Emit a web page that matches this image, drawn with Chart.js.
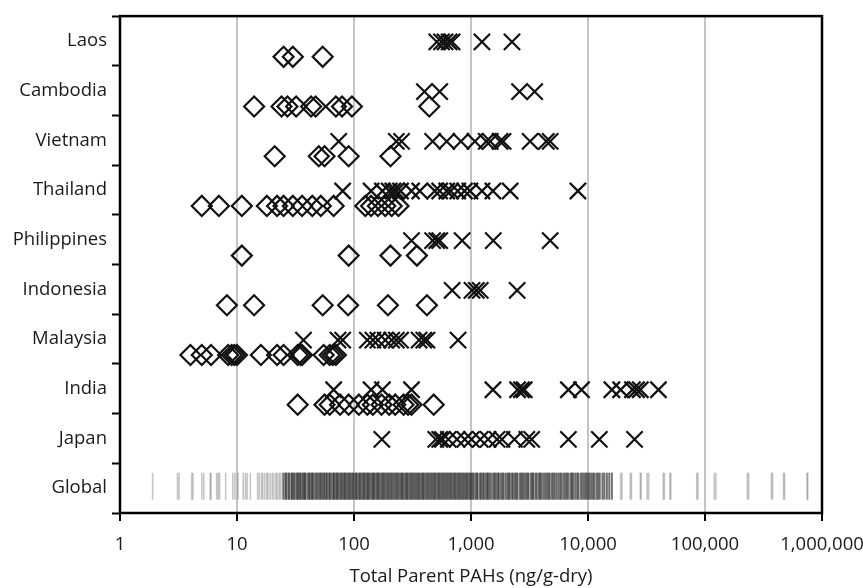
<!DOCTYPE html>
<html>
<head>
<meta charset="utf-8">
<script src="https://cdn.jsdelivr.net/npm/chart.js@4"></script>
<style>
html,body{margin:0;padding:0;background:#fff;}
#wrap{width:863px;height:588px;}
</style>
</head>
<body>
<div id="wrap"><canvas id="c" width="863" height="588"></canvas></div>
<script>
// ---- data ----
const categories = ['Laos','Cambodia','Vietnam','Thailand','Philippines','Indonesia','Malaysia','India','Japan','Global'];
const xTickValues = [1,10,100,1000,10000,100000,1000000];
const xTickLabels = ['1','10','100','1,000','10,000','100,000','1,000,000'];

const laosX = [510, 560, 600, 650, 690, 1240, 2240];
const laosD = [25, 30, 54];
const cambodiaX = [400, 540, 2600, 3500];
const cambodiaD = [14, 24, 27, 32, 43, 47, 70, 79, 96, 440];
const vietnamX = [74, 230, 255, 470, 620, 820, 1080, 1350, 1460, 1770, 1880, 3200, 4400, 4750];
const vietnamD = [21, 50, 56, 90, 205];
const thailandX = [80, 140, 175, 200, 215, 230, 250, 310, 365, 490, 540, 620, 670, 770, 880, 980, 1240, 1540, 2160, 8200];
const thailandD = [5, 7, 11, 18, 22, 25, 30, 36, 44, 52, 67, 125, 140, 160, 185, 210, 240];
const philippinesX = [310, 470, 510, 540, 840, 1550, 4750];
const philippinesD = [11, 90, 205, 345];
const indonesiaX = [690, 1020, 1110, 1200, 2480];
const indonesiaD = [8.2, 14, 54, 89, 195, 420];
const malaysiaX = [37, 73, 80, 130, 145, 160, 185, 210, 230, 250, 360, 395, 420, 775];
const malaysiaD = [4, 5, 6, 8.4, 9, 9.5, 10, 16, 22, 25, 33, 35, 36, 55, 62, 66, 70];
const indiaX = [67, 140, 175, 310, 1540, 2500, 2700, 2850, 6800, 8800, 16000, 19000, 24000, 26000, 28000, 40000];
const indiaD = [33, 56, 62, 76, 90, 110, 130, 145, 172, 200, 225, 265, 290, 310, 480];
const japanX = [173, 500, 540, 570, 640, 760, 885, 1010, 1200, 1400, 1670, 1840, 2350, 3000, 3300, 6800, 12500, 25000];
const japanD = [];

const globalLow = [1.9, 3.1, 3.2, 4.1, 4.2, 5.0, 5.2, 5.9, 6.0, 6.7, 6.9, 7.1, 8.0, 9.2, 9.6, 10.2, 11.3, 11.8, 12.2, 13,
  15, 15.5, 16.2, 16.6, 17.3, 18, 18.4, 19.2, 20, 20.6, 21.5, 22, 22.9, 23.5, 24.4];
const globalMid = [25, 26, 26.4, 27.5, 28, 29.2, 29.5, 30.5, 31, 32.2, 33, 33.4, 34.6, 35, 36.3, 37, 38, 38.4, 40, 41.2, 42, 43.6, 44, 45.3, 47, 48, 49.5, 51, 52, 53.6, 55, 56.2, 58, 59, 61.4, 62, 64, 66.5, 67, 69, 71.3, 72, 74, 76.5, 78, 80, 82.4, 84, 86, 88.6, 91, 93, 95.5, 98,
  101, 104, 106, 110, 112, 115, 119, 121, 124, 128, 131, 133, 137, 142, 145, 148, 152, 157, 160, 164, 169, 174, 178, 182, 187, 193, 197, 202, 208, 213, 219, 226, 231, 236, 243, 251, 256, 262, 270, 278, 284, 291, 300, 308, 316, 323, 333, 342, 350, 359, 369, 380, 389, 398, 410, 422, 432, 443, 456, 469, 480, 492, 506, 521, 534, 547, 562, 578, 593, 607, 625, 642, 658, 675, 694, 713, 731, 750, 771, 792, 812, 833, 856, 880, 902, 925, 951, 977,
  1000, 1030, 1050, 1090, 1120, 1140, 1190, 1220, 1260, 1290, 1340, 1380, 1400, 1450, 1500, 1560, 1590, 1640, 1700, 1730, 1800, 1860, 1900, 1980, 2050, 2100, 2150, 2240, 2300, 2380, 2450, 2500, 2620, 2700, 2760, 2850, 2950, 3050, 3100, 3250, 3350, 3400, 3550, 3650, 3800, 3900, 4000, 4150, 4300, 4450, 4600, 4700, 4900, 5050, 5200, 5400, 5600, 5800, 5950, 6200, 6400, 6600, 6800, 7100, 7300, 7500, 7800, 8100, 8300, 8700, 9000, 9300, 9600, 9900,
  10200, 10600, 11000, 11300, 11800, 12200, 12600, 13300, 13800, 14500, 15200, 16000];
const globalHigh = [19000, 19500, 23000, 23500, 28000, 28500, 32000, 33000, 44000, 45000, 50000, 51000, 85000, 87000, 120000, 124000, 230000, 236000, 370000, 378000, 470000, 478000, 745000, 755000];

const countryX = [laosX, cambodiaX, vietnamX, thailandX, philippinesX, indonesiaX, malaysiaX, indiaX, japanX];
const countryD = [laosD, cambodiaD, vietnamD, thailandD, philippinesD, indonesiaD, malaysiaD, indiaD, japanD];

// ---- chart ----
const datasets = [];
countryX.forEach((arr, i) => {
  datasets.push({
    label: categories[i] + ' X',
    data: arr.map(v => ({x: v, y: i + 0.52})),
    pointStyle: 'crossRot', radius: 11.5, borderWidth: 2.2,
    borderColor: '#111', backgroundColor: 'transparent'
  });
});
countryD.forEach((arr, i) => {
  datasets.push({
    label: categories[i] + ' D',
    data: arr.map(v => ({x: v, y: i + 0.82})),
    pointStyle: 'rectRot', radius: 10, borderWidth: 2.2,
    borderColor: '#111', backgroundColor: 'transparent'
  });
});
datasets.push({
  label: 'Global sparse',
  data: globalLow.concat(globalHigh).map(v => ({x: v, y: 9.46})),
  pointStyle: 'line', rotation: 90, radius: 13.5, borderWidth: 1.6,
  borderColor: 'rgba(90,90,90,0.35)', backgroundColor: 'transparent'
});
datasets.push({
  label: 'Global dense',
  data: globalMid.map(v => ({x: v, y: 9.46})),
  pointStyle: 'line', rotation: 90, radius: 13.5, borderWidth: 2,
  borderColor: 'rgba(45,45,45,0.68)', backgroundColor: 'transparent'
});

const framePlugin = {
  id: 'frame',
  afterDatasetsDraw(chart) {
    const a = chart.chartArea, ctx = chart.ctx;
    ctx.save();
    ctx.strokeStyle = '#000';
    ctx.lineWidth = 2.5;
    ctx.strokeRect(a.left, a.top, a.right - a.left, a.bottom - a.top);
    ctx.restore();
  }
};

Chart.defaults.font.family = "'Open Sans', 'Noto Sans', sans-serif";
new Chart(document.getElementById('c'), {
  type: 'scatter',
  data: {datasets},
  options: {
    responsive: false, animation: false, devicePixelRatio: 1,
    layout: {padding: {left: 0, right: 41, top: 14, bottom: 0}},
    plugins: {legend: {display: false}, tooltip: {enabled: false}},
    scales: {
      x: {
        type: 'logarithmic', min: 1, max: 1000000,
        afterBuildTicks(s) { s.ticks = xTickValues.map(v => ({value: v})); },
        afterFit(s) { s.height = 75; s.paddingRight = 0; s.paddingLeft = 0; },
        ticks: {
          color: '#1a1a1a', font: {size: 18.5}, padding: 13, maxRotation: 0, autoSkip: false,
          callback: (v) => { const k = xTickValues.indexOf(v); return k >= 0 ? xTickLabels[k] : ''; }
        },
        grid: {color: '#c4c4c4', lineWidth: 2, tickColor: '#000', tickLength: 8, tickWidth: 2},
        border: {display: false},
        title: {display: true, text: 'Total Parent PAHs (ng/g-dry)', color: '#1a1a1a', font: {size: 18.5}, padding: {top: 2, bottom: 0}}
      },
      y: {
        type: 'linear', min: 0, max: 10, reverse: true,
        afterBuildTicks(s) { const t = []; for (let k = 0; k <= 20; k++) t.push({value: k / 2}); s.ticks = t; },
        afterFit(s) { s.width = 120; },
        ticks: {
          color: '#1a1a1a', font: {size: 18.5}, padding: 5, autoSkip: false,
          callback: (v) => (v % 1 !== 0) ? categories[Math.floor(v)] : ''
        },
        grid: {
          drawOnChartArea: false, tickLength: 8, tickWidth: 2,
          tickColor: (ctx) => (ctx.tick && ctx.tick.value % 1 === 0) ? '#000' : 'rgba(0,0,0,0)'
        },
        border: {display: false}
      }
    }
  },
  plugins: [framePlugin]
});
</script>
</body>
</html>
